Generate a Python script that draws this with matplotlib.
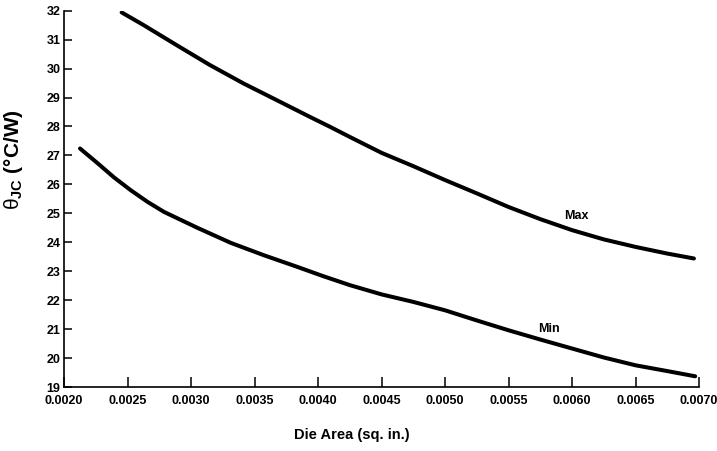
import matplotlib
matplotlib.use("Agg")
import matplotlib.pyplot as plt

plt.rcParams['font.family'] = ['Liberation Sans', 'DejaVu Sans']
plt.rcParams['mathtext.fontset'] = 'custom'
plt.rcParams['mathtext.rm'] = 'Liberation Sans'
plt.rcParams['mathtext.bf'] = 'Liberation Sans:bold'

# Data
max_x = [0.002454, 0.002624, 0.002887, 0.003150, 0.003412, 0.003675, 0.003937,
         0.004094, 0.00425, 0.0045, 0.00475, 0.0050, 0.00525, 0.0055, 0.00575,
         0.0060, 0.00625, 0.0065, 0.00675, 0.00696]
max_y = [31.94, 31.51, 30.81, 30.12, 29.49, 28.91, 28.33,
         27.99, 27.64, 27.09, 26.63, 26.15, 25.69, 25.22, 24.80,
         24.42, 24.10, 23.84, 23.61, 23.44]

min_x = [0.002126, 0.002262, 0.002394, 0.002525, 0.002656, 0.002787, 0.003050,
         0.003313, 0.003575, 0.003837, 0.004034, 0.00425, 0.0045, 0.00475,
         0.0050, 0.00525, 0.0055, 0.00575, 0.0060, 0.00625, 0.0065, 0.00675,
         0.00697]
min_y = [27.24, 26.74, 26.24, 25.80, 25.40, 25.05, 24.50,
         23.98, 23.55, 23.15, 22.84, 22.52, 22.20, 21.94,
         21.65, 21.30, 20.96, 20.64, 20.33, 20.02, 19.75, 19.55,
         19.37]

x_ticks = [0.0020, 0.0025, 0.0030, 0.0035, 0.0040, 0.0045, 0.0050,
           0.0055, 0.0060, 0.0065, 0.0070]
x_ticklabels = ['0.0020', '0.0025', '0.0030', '0.0035', '0.0040', '0.0045',
                '0.0050', '0.0055', '0.0060', '0.0065', '0.0070']
y_ticks = list(range(19, 33))

label_max = ('Max', 0.006032, 24.91)
label_min = ('Min', 0.005822, 21.00)

W, H = 717, 451
fig = plt.figure(figsize=(W / 100, H / 100), dpi=100)
ax = fig.add_axes([64 / W, 1 - 387 / H, (699 - 64) / W, (387 - 10.7) / H])

ax.plot(max_x, max_y, color='black', lw=2.9, solid_capstyle='round',
        solid_joinstyle='round')
ax.plot(min_x, min_y, color='black', lw=2.9, solid_capstyle='round',
        solid_joinstyle='round')

for name, lx, ly in (label_max, label_min):
    ax.text(lx, ly, name, ha='center', va='center', fontsize=9,
            fontweight='bold')

ax.set_xlim(0.0020, 0.0070)
ax.set_ylim(19, 32)
ax.set_xticks(x_ticks)
ax.set_xticklabels(x_ticklabels)
ax.set_yticks(y_ticks)
for lab in ax.get_xticklabels() + ax.get_yticklabels():
    lab.set_fontweight('bold')
    lab.set_fontsize(9)

ax.tick_params(axis='x', direction='in', length=7, width=1.1, pad=6)
ax.tick_params(axis='y', direction='in', length=6, width=1.1, pad=2.5)

for s in ('top', 'right'):
    ax.spines[s].set_visible(False)
for s in ('left', 'bottom'):
    ax.spines[s].set_linewidth(1.2)

fig.text(352 / W, 1 - 435 / H, 'Die Area (sq. in.)', ha='center', va='center',
         fontsize=10.5, fontweight='bold')
fig.text(14 / W, 1 - 160 / H, r'$\mathrm{θ}_{\mathbf{JC}}$ (°C/W)', rotation=90,
         ha='center', va='center', fontsize=15, fontweight='bold')

fig.savefig('out.png', dpi=100, facecolor='white')
